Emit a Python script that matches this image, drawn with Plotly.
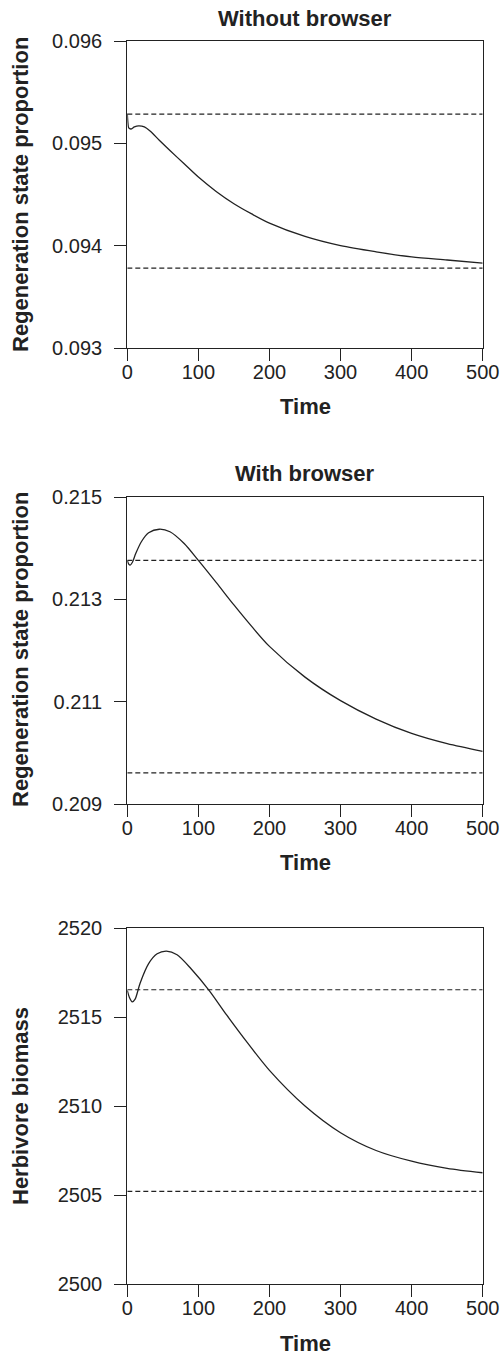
import plotly.graph_objects as go

# ---------------- data ----------------
time_ticks = [0, 100, 200, 300, 400, 500]

t1 = [0, 1, 2, 5, 10, 16, 24, 32, 45, 60, 80, 100, 125, 150, 175, 200, 250, 300, 350, 400, 450, 500]
regen_without = [0.09529, 0.09519, 0.09515, 0.09514, 0.09516, 0.09517, 0.09516, 0.09512, 0.09503,
                 0.09493, 0.09480, 0.09467, 0.09453, 0.09441, 0.09431, 0.09422, 0.09409, 0.09400,
                 0.09394, 0.09389, 0.09386, 0.09383]
dash_without = [0.095285, 0.09378]
yticks_without = [0.093, 0.094, 0.095, 0.096]

t2 = [0, 2, 4, 7, 12, 20, 30, 45, 60, 80, 100, 125, 150, 175, 200, 250, 300, 350, 400, 450, 500]
regen_with = [0.21376, 0.21369, 0.21367, 0.21372, 0.21390, 0.21413, 0.21430, 0.21437, 0.21432,
              0.21409, 0.21376, 0.21333, 0.21289, 0.21247, 0.21208, 0.21148, 0.21102, 0.21066,
              0.21038, 0.21018, 0.21003]
dash_with = [0.21376, 0.20961]
yticks_with = [0.209, 0.211, 0.213, 0.215]

t3 = [0, 3, 7, 11, 18, 30, 42, 55, 70, 90, 115, 140, 170, 200, 250, 300, 350, 400, 450, 500]
herbivore = [2516.5, 2516.1, 2515.85, 2516.0, 2516.9, 2518.0, 2518.55, 2518.7, 2518.5, 2517.7,
             2516.5, 2515.1, 2513.5, 2512.0, 2510.0, 2508.5, 2507.5, 2506.9, 2506.5, 2506.25]
dash_herb = [2516.53, 2505.2]
yticks_herb = [2500, 2505, 2510, 2515, 2520]

dash_x = [0, 500]

# ---------------- layout constants ----------------
W, H = 504, 1357
FONT = "Liberation Sans, Arial, Helvetica, sans-serif"
INK = "#222222"
x_dom = [127.3 / W, 482.7 / W]
panels = [  # (top px, bottom px)
    (41, 348),
    (497, 804),
    (928, 1284),
]

def ydom(top, bot):
    return [1 - bot / H, 1 - top / H]

fig = go.Figure()

series = [
    (t1, regen_without, dash_without, yticks_without, [0.093, 0.096], "%.3f"),
    (t2, regen_with, dash_with, yticks_with, [0.209, 0.215], "%.3f"),
    (t3, herbivore, dash_herb, yticks_herb, [2500, 2520], "%d"),
]

for i, (tt, vals, dashes, yt, yr, fmt) in enumerate(series):
    n = "" if i == 0 else str(i + 1)
    xa, ya = "x" + n, "y" + n
    for d in dashes:
        fig.add_trace(go.Scatter(x=dash_x, y=[d, d], mode="lines", xaxis=xa, yaxis=ya,
                                 line=dict(color=INK, width=1.2, dash="5px,3px"),
                                 showlegend=False, hoverinfo="skip"))
    fig.add_trace(go.Scatter(x=tt, y=vals, mode="lines", xaxis=xa, yaxis=ya,
                             line=dict(color=INK, width=1.3, shape="spline", smoothing=0.8),
                             showlegend=False))
    top, bot = panels[i]
    axis_common = dict(showline=True, linecolor=INK, linewidth=1.3, mirror=True,
                       ticks="outside", ticklen=12, tickwidth=1.2, tickcolor=INK,
                       showgrid=False, zeroline=False, automargin=False,
                       tickfont=dict(family=FONT, size=20, color=INK))
    fig.update_layout(**{
        "xaxis" + n: dict(domain=x_dom, range=[0, 500], tickvals=time_ticks,
                          ticklabelstandoff=-6, anchor=ya, **axis_common),
        "yaxis" + n: dict(domain=ydom(top, bot), range=yr, tickvals=yt,
                          ticktext=[(fmt % v) for v in yt], ticklabelstandoff=8,
                          anchor=xa, **axis_common),
    })

cx = (127.3 + 482.7) / 2 / W
titles = [("Without browser", 19), ("With browser", 473)]
for txt, y in titles:
    fig.add_annotation(text="<b>%s</b>" % txt, x=cx, y=1 - y / H,
                       xref="paper", yref="paper", showarrow=False,
                       font=dict(family=FONT, size=22, color=INK), xanchor="center", yanchor="middle")

for y in [348 + 58, 804 + 58, 1284 + 59]:
    fig.add_annotation(text="<b>Time</b>", x=cx, y=1 - y / H,
                       xref="paper", yref="paper", showarrow=False,
                       font=dict(family=FONT, size=22, color=INK), xanchor="center", yanchor="middle")

ylabels = [("Regeneration state proportion", 195), ("Regeneration state proportion", 650),
           ("Herbivore biomass", 1106)]
for txt, y in ylabels:
    fig.add_annotation(text="<b>%s</b>" % txt, x=20 / W, y=1 - y / H, textangle=-90,
                       xref="paper", yref="paper", showarrow=False,
                       font=dict(family=FONT, size=22, color=INK), xanchor="center", yanchor="middle")

fig.update_layout(width=W, height=H, margin=dict(l=0, r=0, t=0, b=0),
                  plot_bgcolor="white", paper_bgcolor="white", showlegend=False)

fig.write_html("out.html")
